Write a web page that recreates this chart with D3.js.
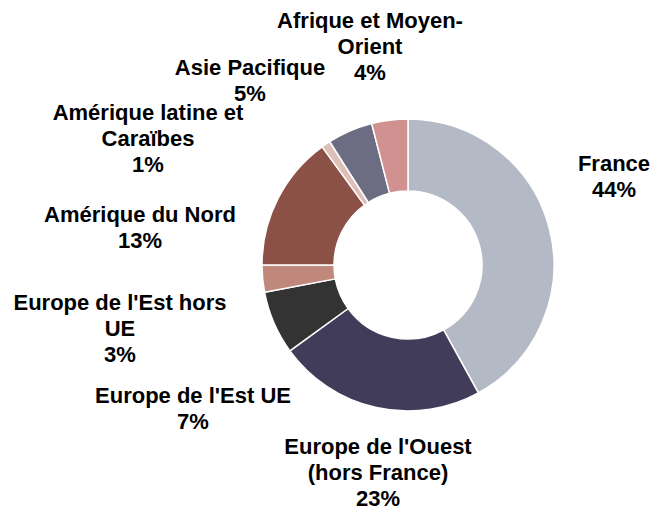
<!DOCTYPE html>
<html>
<head>
<meta charset="utf-8">
<script src="https://cdn.jsdelivr.net/npm/d3@7"></script>
<style>
  body { margin: 0; background: #fff; }
  .lbl { font-family: "Liberation Sans", Arial, sans-serif; font-weight: bold; font-size: 22px; fill: #000; }
</style>
</head>
<body>
<script>
// Regions, clockwise from 12 o'clock
var regions = [
  ["France"],
  ["Europe de l'Ouest", "(hors France)"],
  ["Europe de l'Est UE"],
  ["Europe de l'Est hors", "UE"],
  ["Amérique du Nord"],
  ["Amérique latine et", "Caraïbes"],
  ["Asie Pacifique"],
  ["Afrique et Moyen-", "Orient"]
];
// slice sizes as drawn (read from the ring)
var shares = [42, 23, 7, 3, 15, 1, 5, 4];
// percentage text as printed on the chart
var pctText = ["44%", "23%", "7%", "3%", "13%", "1%", "5%", "4%"];
var colors = ["#b3bac5", "#413c5a", "#333333", "#c0877b", "#8b5046", "#dcc0b8", "#6c6c83", "#d19191"];

window.onload = setChart();
function setChart(){

  var width = 652,
      height = 513;

  var cx = 408, cy = 265,
      outerR = 146, innerR = 74;

  // label block centres, relative to the ring centre
  var labelOffset = [
    [206, -89], [-30, 207], [-215, 143], [-288, 63],
    [-268, -38], [-260, -127], [-158, -185], [-38, -219]
  ];
  var lineH = 26;

  var svg = d3.select("body")
      .append("svg")
      .attr("width", width)
      .attr("height", height);

  var pie = d3.pie()
      .sort(null)
      .value(function(d){ return d; });

  var arc = d3.arc()
      .innerRadius(innerR)
      .outerRadius(outerR);

  var g = svg.append("g")
      .attr("transform", "translate(" + cx + "," + cy + ")");

  g.selectAll(".slice")
      .data(pie(shares))
      .enter()
      .append("path")
      .attr("class", "slice")
      .attr("d", arc)
      .attr("fill", function(d, i){ return colors[i]; })
      .attr("stroke", "#fff")
      .attr("stroke-width", 1.5)
      .attr("stroke-linejoin", "round");

  // data labels: name lines then the percentage
  var labels = g.selectAll(".lbl")
      .data(regions)
      .enter()
      .append("text")
      .attr("class", "lbl")
      .attr("text-anchor", "middle");

  labels.each(function(d, i){
    var lines = d.concat([pctText[i]]);
    var top = labelOffset[i][1] - (lines.length - 1) * lineH / 2;
    d3.select(this).selectAll("tspan")
      .data(lines)
      .enter()
      .append("tspan")
      .attr("x", labelOffset[i][0])
      .attr("y", function(t, j){ return top + j * lineH + 8; })
      .text(function(t){ return t; });
  });
}
</script>
</body>
</html>
